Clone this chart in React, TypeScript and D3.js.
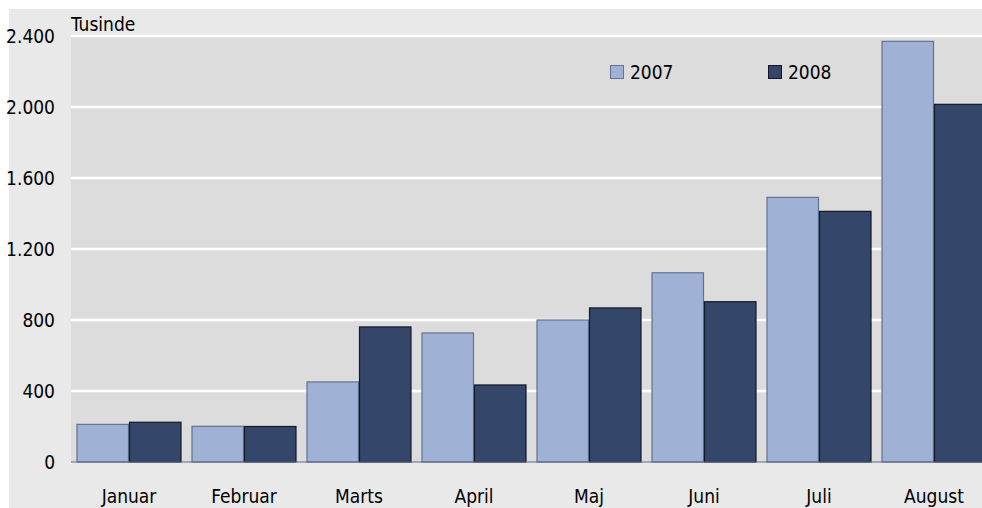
import React from 'react';
import * as d3 from 'd3';

const months = ['Januar', 'Februar', 'Marts', 'April', 'Maj', 'Juni', 'Juli', 'August'];
const years = ['2007', '2008'];
const values2007 = [212, 201, 451, 727, 800, 1066, 1491, 2370];
const values2008 = [224, 200, 761, 434, 868, 903, 1412, 2015];
const yTicks = [0, 400, 800, 1200, 1600, 2000, 2400];

const W = 982;
const H = 508;
const font = '"DejaVu Sans Condensed", "Liberation Sans", sans-serif';

const App = () => {
  const plotLeft = 71;
  const plotTop = 36;
  const plotBottom = 462;

  const x = d3.scaleBand().domain(months).range([71.5, 991.5]).paddingInner(0.087).paddingOuter(0.0435);
  const x1 = d3.scaleBand().domain(years).range([0, x.bandwidth()]);
  const y = d3.scaleLinear().domain([0, 2400]).range([plotBottom, plotTop]);

  const fmt = (v) => d3.format(',')(v).replace(/,/g, '.');

  const series = [
    { year: '2007', values: values2007, fill: '#9fb1d4', stroke: '#63728f' },
    { year: '2008', values: values2008, fill: '#34476a', stroke: '#111827' },
  ];

  return (
    <svg width={W} height={H} style={{ position: 'absolute', left: 0, top: 0 }}>
      <rect x={9} y={9} width={W - 9} height={H - 9} fill="#e9e9e9" />
      <rect x={plotLeft} y={plotTop} width={W - plotLeft} height={plotBottom - plotTop} fill="#dcdcdc" />

      {yTicks.filter(t => t > 0).map(t => (
        <line key={t} x1={plotLeft} x2={W} y1={y(t)} y2={y(t)} stroke="#ffffff" strokeWidth={2.5} />
      ))}

      {series.map(s => (
        <g key={s.year}>
          {months.map((m, i) => (
            <rect
              key={m}
              x={x(m) + x1(s.year) + 0.5}
              y={y(s.values[i])}
              width={x1.bandwidth() - 1}
              height={plotBottom - y(s.values[i])}
              fill={s.fill}
              stroke={s.stroke}
              strokeWidth={1.2}
            />
          ))}
        </g>
      ))}

      <line x1={plotLeft} x2={W} y1={plotBottom} y2={plotBottom} stroke="#5c6a85" strokeWidth={1.2} />

      {yTicks.map(t => (
        <text key={t} x={55} y={y(t) + 7} textAnchor="end" fontFamily={font} fontSize={19} fill="#000">
          {fmt(t)}
        </text>
      ))}

      <text x={71} y={31} fontFamily={font} fontSize={19} fill="#000">Tusinde</text>

      {months.map(m => (
        <text key={m} x={x(m) + x.bandwidth() / 2} y={503} textAnchor="middle" fontFamily={font} fontSize={19} fill="#000">
          {m}
        </text>
      ))}

      {series.map((s, i) => (
        <g key={s.year} transform={`translate(${610 + i * 158},65)`}>
          <rect x={0.5} y={0.5} width={13} height={13} fill={s.fill} stroke={s.stroke} strokeWidth={1} />
          <text x={20} y={14} fontFamily={font} fontSize={19} fill="#000">{s.year}</text>
        </g>
      ))}
    </svg>
  );
};

export default App;
